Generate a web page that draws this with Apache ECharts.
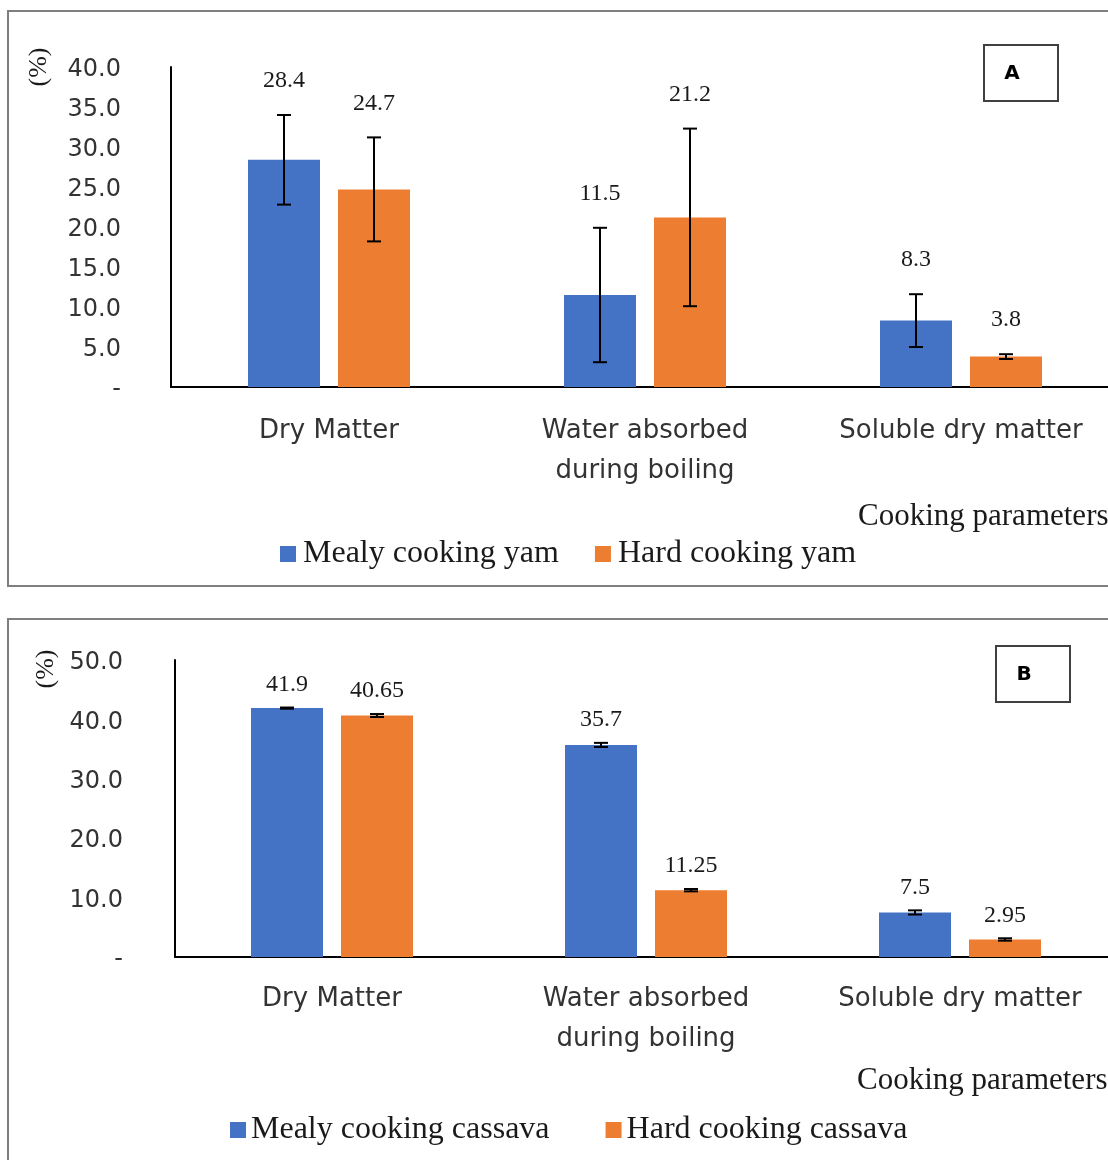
<!DOCTYPE html>
<html>
<head>
<meta charset="utf-8">
<title>Cooking parameters</title>
<script src="https://cdn.jsdelivr.net/npm/echarts@6/dist/echarts.min.js"></script>
<style>
  html, body { margin: 0; padding: 0; background: #fff; }
  #chart { width: 1108px; height: 1160px; }
</style>
</head>
<body>
<div id="chart"></div>
<script>
// Cooking parameters of yam (A) and cassava (B), mean ± error
const categories = ['Dry Matter', 'Water absorbed\nduring boiling', 'Soluble dry matter'];

const yamMealy = [28.4, 11.5, 8.3];
const yamMealyErr = [5.6, 8.4, 3.3];
const yamHard = [24.7, 21.2, 3.8];
const yamHardErr = [6.5, 11.1, 0.3];

const cassavaMealy = [41.9, 35.7, 7.5];
const cassavaMealyErr = [0.1, 0.35, 0.35];
const cassavaHard = [40.65, 11.25, 2.95];
const cassavaHardErr = [0.25, 0.2, 0.2];

const yamNames = ['Mealy cooking yam', 'Hard cooking yam'];
const cassavaNames = ['Mealy cooking cassava', 'Hard cooking cassava'];

const yamTicks = { min: 0, max: 40, interval: 5 };
const cassavaTicks = { min: 0, max: 50, interval: 10 };

const BLUE = '#4472C4';
const ORANGE = '#ED7D31';
const BAR_W = 72;
const BAR_GAP = 0.25;
const SANS = '"DejaVu Sans", sans-serif';
const SERIF = '"Liberation Serif", "Times New Roman", serif';

const chart = echarts.init(document.getElementById('chart'), null, { renderer: 'canvas' });

function tickLabel(v) {
  return v === 0 ? '-' : v.toFixed(1);
}

function xAxisFor(gridIndex, margin) {
  return {
    type: 'category', gridIndex, data: categories,
    axisLine: { show: true, lineStyle: { color: '#000', width: 2 } },
    axisTick: { show: false },
    axisLabel: {
      interval: 0, margin, color: '#333', fontFamily: SANS,
      fontSize: 26, lineHeight: 40
    }
  };
}

function yAxisFor(gridIndex, ticks, margin) {
  return {
    type: 'value', gridIndex, min: ticks.min, max: ticks.max, interval: ticks.interval,
    axisLine: { show: true, lineStyle: { color: '#000', width: 2 } },
    axisTick: { show: false },
    splitLine: { show: false },
    axisLabel: {
      margin, color: '#333', fontFamily: SANS, fontSize: 24,
      verticalAlign: 'top', lineHeight: 24, padding: [-9, 0, 0, 0],
      formatter: tickLabel
    }
  };
}

function barSeries(name, values, color, axisIndex) {
  return {
    name, type: 'bar', xAxisIndex: axisIndex, yAxisIndex: axisIndex,
    data: values, barWidth: BAR_W, barGap: (BAR_GAP * 100) + '%',
    itemStyle: { color }, emphasis: { disabled: true }
  };
}

// error whiskers plus the value label sitting above each whisker
function errorSeries(id, values, errs, side, axisIndex, labelGap) {
  const shift = side * (BAR_W + BAR_W * BAR_GAP) / 2;
  return {
    id, type: 'custom', xAxisIndex: axisIndex, yAxisIndex: axisIndex, z: 10,
    data: values.map((v, i) => [i, v, errs[i]]),
    renderItem(params, api) {
      const i = api.value(0), v = api.value(1), e = api.value(2);
      const x = api.coord([i, v])[0] + shift;
      const yTop = api.coord([i, v + e])[1];
      const yBot = api.coord([i, v - e])[1];
      const cap = 7;
      const stroke = { stroke: '#000', lineWidth: 2 };
      return {
        type: 'group',
        children: [
          { type: 'line', shape: { x1: x, y1: yTop, x2: x, y2: yBot }, style: stroke },
          { type: 'line', shape: { x1: x - cap, y1: yTop, x2: x + cap, y2: yTop }, style: stroke },
          { type: 'line', shape: { x1: x - cap, y1: yBot, x2: x + cap, y2: yBot }, style: stroke },
          {
            type: 'text', x, y: yTop - labelGap,
            style: {
              text: String(v), fill: '#1a1a1a', font: '24px ' + SERIF,
              align: 'center', verticalAlign: 'middle'
            }
          }
        ]
      };
    }
  };
}

function panelFrame(y, h) {
  return {
    type: 'rect', shape: { x: 8, y, width: 1112, height: h },
    style: { fill: 'none', stroke: '#7f7f7f', lineWidth: 2 }, silent: true, z: 0
  };
}

function tagBox(x, y, letter) {
  return [
    {
      type: 'rect', shape: { x, y, width: 74, height: 56 },
      style: { fill: '#fff', stroke: '#404040', lineWidth: 2 }, z: 5
    },
    {
      type: 'text', x: x + 28, y: y + 29, z: 6,
      style: {
        text: letter, fill: '#000', font: 'bold 20px ' + SANS,
        align: 'center', verticalAlign: 'middle'
      }
    }
  ];
}

function plainText(x, y, text, font, align, rotation) {
  return {
    type: 'text', x, y, rotation: rotation || 0, z: 5,
    style: { text, fill: '#1a1a1a', font, align, verticalAlign: 'middle' }
  };
}

const option = {
  backgroundColor: '#fff',
  animation: false,
  grid: [
    { left: 171, top: 67, width: 948, height: 320, containLabel: false, outerBoundsMode: 'none' },
    { left: 175, top: 660, width: 942, height: 297, containLabel: false, outerBoundsMode: 'none' }
  ],
  xAxis: [xAxisFor(0, 24), xAxisFor(1, 22)],
  yAxis: [yAxisFor(0, yamTicks, 50), yAxisFor(1, cassavaTicks, 52)],
  legend: [
    {
      data: yamNames, left: 275, top: 533, icon: 'rect',
      itemWidth: 16, itemHeight: 16, itemGap: 36,
      textStyle: { fontFamily: SERIF, fontSize: 32, color: '#1a1a1a', padding: [0, 0, 0, 2] },
      selectedMode: false
    },
    {
      data: cassavaNames, left: 225, top: 1109, icon: 'rect',
      itemWidth: 16, itemHeight: 16, itemGap: 56,
      textStyle: { fontFamily: SERIF, fontSize: 32, color: '#1a1a1a', padding: [0, 0, 0, 0] },
      selectedMode: false
    }
  ],
  graphic: [
    panelFrame(11, 575),
    panelFrame(619, 560),
    ...tagBox(984, 45, 'A'),
    ...tagBox(996, 646, 'B'),
    plainText(39, 67, '(%)', '26px ' + SERIF, 'center', Math.PI / 2),
    plainText(46, 669, '(%)', '26px ' + SERIF, 'center', Math.PI / 2),
    plainText(858, 517, 'Cooking parameters', '31px ' + SERIF, 'left'),
    plainText(857, 1081, 'Cooking parameters', '31px ' + SERIF, 'left')
  ],
  series: [
    barSeries(yamNames[0], yamMealy, BLUE, 0),
    barSeries(yamNames[1], yamHard, ORANGE, 0),
    errorSeries('yam-mealy-err', yamMealy, yamMealyErr, -1, 0, 34),
    errorSeries('yam-hard-err', yamHard, yamHardErr, 1, 0, 34),
    barSeries(cassavaNames[0], cassavaMealy, BLUE, 1),
    barSeries(cassavaNames[1], cassavaHard, ORANGE, 1),
    errorSeries('cassava-mealy-err', cassavaMealy, cassavaMealyErr, -1, 1, 23),
    errorSeries('cassava-hard-err', cassavaHard, cassavaHardErr, 1, 1, 23)
  ]
};

chart.setOption(option);
</script>
</body>
</html>
